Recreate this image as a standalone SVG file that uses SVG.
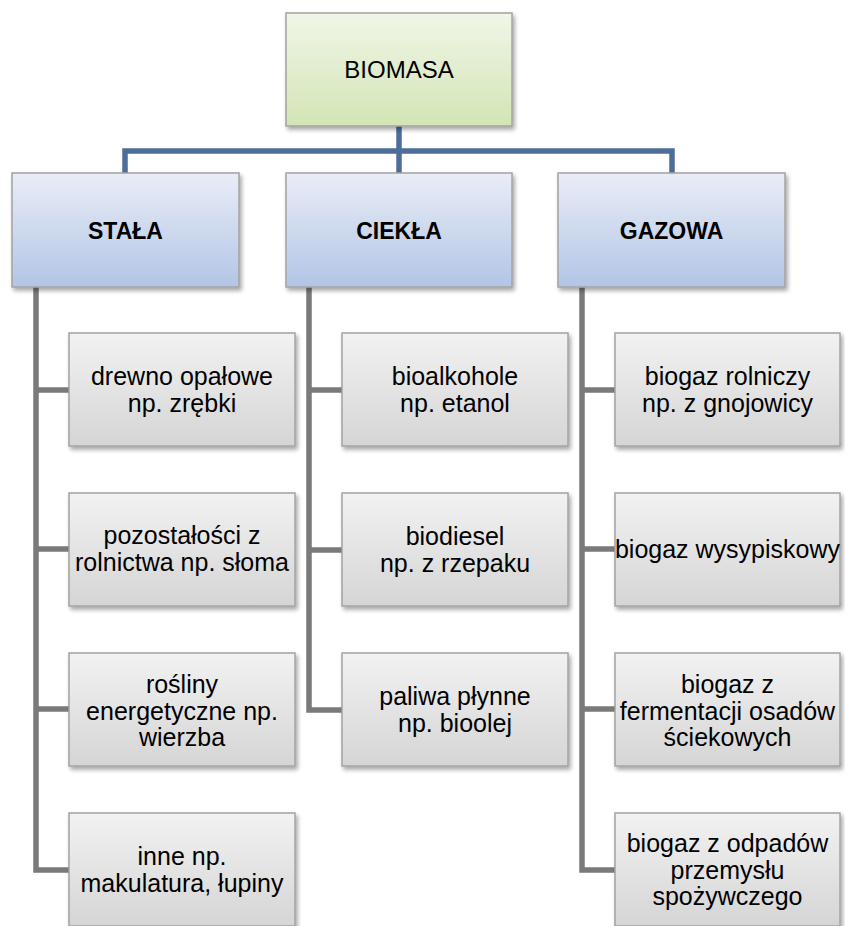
<svg xmlns="http://www.w3.org/2000/svg" width="845" height="926" viewBox="0 0 845 926">
<defs>
<linearGradient id="gGreen" x1="0" y1="0" x2="0" y2="1"><stop offset="0" stop-color="#f0f6e8"/><stop offset="1" stop-color="#d3e5b4"/></linearGradient>
<linearGradient id="gBlue" x1="0" y1="0" x2="0" y2="1"><stop offset="0" stop-color="#e9edf7"/><stop offset="1" stop-color="#b3c5e5"/></linearGradient>
<linearGradient id="gGray" x1="0" y1="0" x2="0" y2="1"><stop offset="0" stop-color="#f2f2f2"/><stop offset="1" stop-color="#d5d5d5"/></linearGradient>
<filter id="sh" x="-10%" y="-10%" width="125%" height="130%"><feDropShadow dx="2" dy="3" stdDeviation="2" flood-color="#000" flood-opacity="0.35"/></filter>
</defs>
<style>
.box{stroke:#a3a3a3;stroke-width:1.5;filter:url(#sh)}
.l1{fill:url(#gGreen)}
.l2{fill:url(#gBlue)}
.l3{fill:url(#gGray)}
text{font-family:"Liberation Sans",Arial,sans-serif;fill:#000;text-anchor:middle}
.t1{font-size:24px}
.t2{font-size:23px;font-weight:bold}
.t3{font-size:25px}
.cb{fill:none;stroke:#4d6e99;stroke-width:5.5}
.cg{fill:none;stroke:#7a7a7a;stroke-width:5.5}
</style>
<g id="connectors">
<path class="cb" d="M399 126V151M125 173V151H672V173M399 151V173"/>
<path class="cg" d="M36 287V870H69M36 390H69M36 549H69M36 709H69"/>
<path class="cg" d="M309 287V710H342M309 390H342M309 550H342"/>
<path class="cg" d="M582 287V870H615M582 390H615M582 549H615M582 709H615"/>
</g>
<g id="biomasa"><rect class="box l1" x="286" y="13" width="226" height="113"/><text class="t1" x="399" y="78">BIOMASA</text></g>
<g id="stala"><rect class="box l2" x="12" y="173" width="227" height="114"/><text class="t2" x="125.5" y="239">STAŁA</text></g>
<g id="ciekla"><rect class="box l2" x="286" y="173" width="226" height="114"/><text class="t2" x="399" y="239">CIEKŁA</text></g>
<g id="gazowa"><rect class="box l2" x="558" y="173" width="227" height="114"/><text class="t2" x="671.5" y="239">GAZOWA</text></g>

<g id="drewno"><rect class="box l3" x="69" y="333" width="226" height="113"/><text class="t3" x="182" y="385">drewno opałowe</text><text class="t3" x="182" y="412">np. zrębki</text></g>
<g id="pozostalosci"><rect class="box l3" x="69" y="493" width="226" height="113"/><text class="t3" x="182" y="544">pozostałości z</text><text class="t3" x="182" y="571">rolnictwa np. słoma</text></g>
<g id="rosliny"><rect class="box l3" x="69" y="653" width="226" height="113"/><text class="t3" x="182" y="693">rośliny</text><text class="t3" x="182" y="719.5">energetyczne np.</text><text class="t3" x="182" y="746">wierzba</text></g>
<g id="inne"><rect class="box l3" x="69" y="813" width="226" height="113"/><text class="t3" x="182" y="865">inne np.</text><text class="t3" x="182" y="892">makulatura, łupiny</text></g>

<g id="bioalkohole"><rect class="box l3" x="342" y="333" width="226" height="113"/><text class="t3" x="455" y="385">bioalkohole</text><text class="t3" x="455" y="412">np. etanol</text></g>
<g id="biodiesel"><rect class="box l3" x="342" y="493" width="226" height="113"/><text class="t3" x="455" y="545">biodiesel</text><text class="t3" x="455" y="572">np. z rzepaku</text></g>
<g id="paliwa"><rect class="box l3" x="342" y="653" width="226" height="113"/><text class="t3" x="455" y="705">paliwa płynne</text><text class="t3" x="455" y="732">np. bioolej</text></g>

<g id="biogaz-rolniczy"><rect class="box l3" x="615" y="333" width="225" height="113"/><text class="t3" x="727.5" y="385">biogaz rolniczy</text><text class="t3" x="727.5" y="412">np. z gnojowicy</text></g>
<g id="biogaz-wysypiskowy"><rect class="box l3" x="615" y="493" width="225" height="113"/><text class="t3" x="727.5" y="558">biogaz wysypiskowy</text></g>
<g id="biogaz-fermentacji"><rect class="box l3" x="615" y="653" width="225" height="113"/><text class="t3" x="727.5" y="693">biogaz z</text><text class="t3" x="727.5" y="719.5">fermentacji osadów</text><text class="t3" x="727.5" y="746">ściekowych</text></g>
<g id="biogaz-odpadow"><rect class="box l3" x="615" y="813" width="225" height="113"/><text class="t3" x="727.5" y="852">biogaz z odpadów</text><text class="t3" x="727.5" y="878.5">przemysłu</text><text class="t3" x="727.5" y="905">spożywczego</text></g>
</svg>
